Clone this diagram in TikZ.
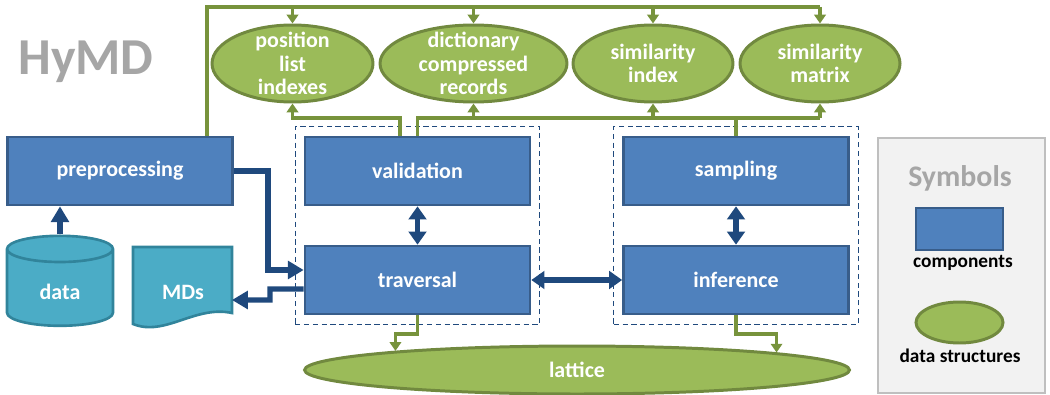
\documentclass[tikz,border=0pt]{standalone}
\usepackage{fontspec}
\setmainfont{Carlito}
\usetikzlibrary{arrows.meta,shapes.geometric,fit}
\definecolor{compblue}{HTML}{4F81BD}
\definecolor{compborder}{HTML}{385D8A}
\definecolor{arrowblue}{HTML}{1F497D}
\definecolor{dsgreen}{HTML}{9BBB59}
\definecolor{dsborder}{HTML}{71893F}
\definecolor{linegreen}{HTML}{77933C}
\definecolor{storecyan}{HTML}{4BACC6}
\definecolor{storeborder}{HTML}{31849B}
\definecolor{titlegray}{HTML}{A6A6A6}
\definecolor{legendfill}{HTML}{F2F2F2}
\definecolor{legendborder}{HTML}{BFBFBF}

\begin{document}
\begin{tikzpicture}[x=0.02cm,y=-0.02cm,
    comp/.style={draw=compborder, line width=1.5pt, fill=compblue, text=white,
        font=\bfseries\fontsize{12.5}{14}\selectfont, minimum width=4.5cm,
        minimum height=1.36cm, inner sep=0pt},
    dstruct/.style={ellipse, draw=dsborder, line width=1.7pt, fill=dsgreen,
        inner sep=0pt, minimum height=1.54cm},
    dstext/.style={text=white, font=\bfseries\fontsize{12.5}{13.5}\selectfont,
        align=center, inner sep=0pt},
    store/.style={draw=storeborder, line width=1.5pt, fill=storecyan, text=white,
        font=\bfseries\fontsize{12.5}{14}\selectfont},
    bline/.style={draw=arrowblue, line width=3pt},
    barrow/.style={bline, -{Triangle[width=10pt,length=9pt]}},
    bbiarrow/.style={bline, {Triangle[width=10pt,length=7.5pt]}-{Triangle[width=10pt,length=7.5pt]}},
    gline/.style={draw=linegreen, line width=2.2pt},
    garrow/.style={gline, -{Triangle[width=6.5pt,length=5pt]}},
    group/.style={draw=arrowblue, line width=0.6pt, dash pattern=on 3pt off 2pt,
        inner xsep=0.17cm, inner ysep=0.18cm},
    legtext/.style={font=\bfseries\fontsize{11}{13}\selectfont, inner sep=0pt}
]
\useasboundingbox (0,0) rectangle (1050,395);

% Title
\node[text=titlegray, font=\bfseries\fontsize{29.5}{32}\selectfont] (title) at (86,62) {HyMD};

% Components
\node[comp] (prep) at (120,171) {preprocessing};
\node[comp] (valid) at (417.5,171) {validation};
\node[comp] (trav) at (417.5,280) {traversal};
\node[comp] (samp) at (736,171) {sampling};
\node[comp] (infer) at (736,280) {inference};

% Dashed groups
\node[group, fit=(valid)(trav)] (lgroup) {};
\node[group, fit=(samp)(infer)] (rgroup) {};

% Data structures
\node[dstruct, minimum width=3.22cm] (pli) at (292.5,63.5) {};
\node[dstext] (pli-t) at (pli) {position\\list\\indexes};
\node[dstruct, minimum width=3.74cm] (dict) at (473.5,63.5) {};
\node[dstext] (dict-t) at (dict) {dictionary\\compressed\\records};
\node[dstruct, minimum width=3.2cm] (simidx) at (653,63.5) {};
\node[dstext] (simidx-t) at (simidx) {similarity\\index};
\node[dstruct, minimum width=3.2cm] (simmat) at (820,63.5) {};
\node[dstext] (simmat-t) at (simmat) {similarity\\matrix};
\node[dstruct, minimum width=10.9cm, minimum height=0.96cm] (lattice) at (577,370) {};
\node[dstext] (lattice-t) at (lattice) {lattice};

% Input and output
\node[store, cylinder, shape border rotate=90, aspect=0.5, minimum width=2.12cm,
    minimum height=1.8cm, text height=10pt, text depth=0pt] (data) at (60,291) {data};
\draw[store] (133,247) -- (232,247) -- (232,313)
    .. controls (195,305) and (165,337) .. (133,324) -- cycle;
\node[text=white, font=\bfseries\fontsize{12.5}{14}\selectfont] (mds) at (183,292) {MDs};
\coordinate (mdsin) at (232,300);

% Blue connectors
\draw[barrow] (data.north) -- (prep.south -| data.north);
\draw[barrow] (prep.east) -- (268,171) -- (268,270) -- (trav.west |- 268,270);
\draw[barrow] ([yshift=-0.18cm]trav.west) -- (270,289) -- (270,300) -- (mdsin);
\draw[bbiarrow] (valid) -- (trav);
\draw[bbiarrow] (samp) -- (infer);
\draw[bbiarrow] (trav) -- (infer);

% Green connectors, top
\coordinate (tbus) at (0,7);
\coordinate (gbus) at (0,118);
\draw[gline] ([xshift=-0.54cm]prep.north east) |- (simmat.north |- tbus);
\foreach \ds in {pli,dict,simidx,simmat}
    \draw[garrow] (\ds.north |- tbus) -- (\ds.north);
\draw[garrow] ([xshift=-0.35cm]valid.north) |- (pli.south |- gbus) -- (pli.south);
\draw[gline] (valid.north) |- (simmat.south |- gbus);
\draw[gline] (samp.north) -- (samp.north |- gbus);
\foreach \ds in {dict,simidx,simmat}
    \draw[garrow] (\ds.south |- gbus) -- (\ds.south);

% Green connectors, bottom
\draw[garrow] (trav.south) -- ++(0,-0.38cm) -| (lattice.174.6);
\draw[garrow] (infer.south) -- ++(0,-0.38cm) -| (lattice.5.4);

% Legend
\node[draw=legendborder, line width=1.6pt, fill=legendfill, minimum width=3.34cm,
    minimum height=5.1cm] (legend) at (961.5,265.5) {};
\node[text=titlegray, font=\bfseries\fontsize{17}{20}\selectfont] (legtitle) at (960,178) {Symbols};
\node[comp, minimum width=1.74cm, minimum height=0.84cm] (legcomp) at (959.5,229) {};
\node[legtext] (legcomp-t) at (963,263) {components};
\node[dstruct, minimum width=1.74cm, minimum height=0.82cm] (legds) at (959.5,322.5) {};
\node[legtext] (legds-t) at (960,356) {data structures};

\end{tikzpicture}
\end{document}
